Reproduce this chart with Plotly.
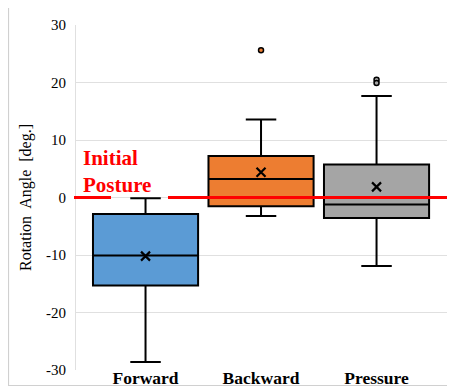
import plotly.graph_objects as go

categories = ["Forward", "Backward", "Pressure"]
q1 = [-15.3, -1.5, -3.55]
median = [-10.1, 3.2, -1.2]
q3 = [-2.85, 7.2, 5.75]
lower_whisker = [-28.6, -3.2, -11.9]
upper_whisker = [-0.15, 13.55, 17.65]
means = [-10.2, 4.4, 1.85]
fill_colors = ["#5B9BD5", "#ED7D31", "#A5A5A5"]
outlier_cats = ["Backward", "Pressure", "Pressure"]
outlier_vals = [25.6, 20.5, 19.9]
outlier_fill = ["#ED7D31", "#A5A5A5", "#A5A5A5"]
y_ticks = [-30, -20, -10, 0, 10, 20, 30]

OFF = 8  # page body margin
L, R, T, B = 76 - OFF, 453 - OFF, 24.5 - OFF, 370 - OFF
W, H = 455 - OFF, 387 - OFF
def px(x):
    return (x - OFF - L) / (R - L)
def py(y):
    return (B - (y - OFF)) / (B - T)

SERIF = "Liberation Serif"

fig = go.Figure()
for i, c in enumerate(categories):
    fig.add_trace(go.Box(
        x=[c], q1=[q1[i]], median=[median[i]], q3=[q3[i]],
        lowerfence=[lower_whisker[i]], upperfence=[upper_whisker[i]],
        fillcolor=fill_colors[i], line=dict(color="black", width=2),
        width=0.91, whiskerwidth=0.29, boxpoints=False, showlegend=False,
        hoverinfo="skip"))

fig.add_trace(go.Scatter(
    x=categories, y=means, mode="markers",
    marker=dict(symbol="x-thin", size=9, line=dict(color="black", width=2.2)),
    showlegend=False, hoverinfo="skip"))
fig.add_trace(go.Scatter(
    x=outlier_cats, y=outlier_vals, mode="markers",
    marker=dict(symbol="circle", size=5, color=outlier_fill,
                line=dict(color="black", width=1.5)),
    showlegend=False, hoverinfo="skip"))

shapes = [
    dict(type="line", xref="paper", yref="y", x0=px(74), x1=px(111), y0=0, y1=0,
         line=dict(color="#FF0000", width=3), layer="above"),
    dict(type="line", xref="paper", yref="y", x0=px(168), x1=px(447), y0=0, y1=0,
         line=dict(color="#FF0000", width=3), layer="above"),
    dict(type="line", xref="paper", yref="paper", x0=px(8.5), x1=px(8.5), y0=py(5), y1=py(386),
         line=dict(color="#D0D0D0", width=1.2), layer="below"),
    dict(type="line", xref="paper", yref="paper", x0=px(8), x1=px(456), y0=py(385.5), y1=py(385.5),
         line=dict(color="#D0D0D0", width=1.2), layer="below"),
]

fig.update_layout(
    width=W, height=H,
    margin=dict(l=L, r=W - R, t=T, b=H - B, autoexpand=False),
    paper_bgcolor="white", plot_bgcolor="white",
    font=dict(family=SERIF, color="black"),
    shapes=shapes,
    annotations=[dict(
        text="Initial<br>Posture", xref="paper", yref="y", x=px(81), y=4.5,
        xanchor="left", yanchor="middle", align="left", showarrow=False,
        font=dict(family=SERIF, size=21, color="#FF0000", weight="bold"))],
)
fig.update_xaxes(
    type="category", categoryorder="array", categoryarray=categories,
    range=[-0.602, 2.662], showgrid=False, showline=False, zeroline=False,
    automargin=False,
    ticks="", tickfont=dict(family=SERIF, size=17.5, weight="bold"), ticklabelstandoff=-5)
fig.update_yaxes(
    range=[-30, 30], tickvals=y_ticks, ticktext=[str(v) for v in y_ticks],
    showgrid=True, gridcolor="#E0E0E0", gridwidth=1.2, zeroline=False,
    showline=True, linecolor="#E0E0E0", linewidth=1.2, ticks="", automargin=False,
    tickfont=dict(family=SERIF, size=15), ticklabelstandoff=6,
    title=dict(text="Rotation  Angle  [deg.]", font=dict(family=SERIF, size=16), standoff=10))

fig.write_html("out.html")
